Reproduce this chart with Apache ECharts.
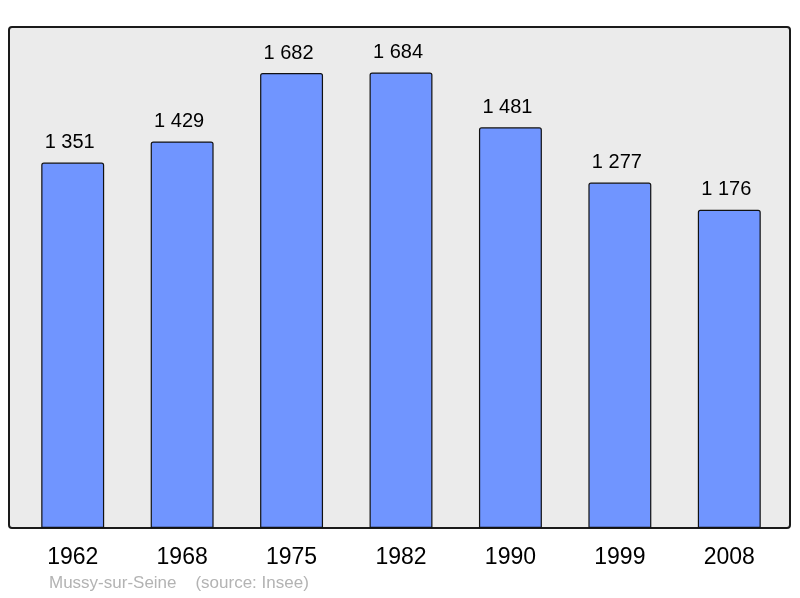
<!DOCTYPE html>
<html lang="fr">
<head>
    <meta charset="UTF-8">
    <title>Mussy-sur-Seine population</title>
    <script src="https://cdn.jsdelivr.net/npm/echarts@6/dist/echarts.min.js"></script>
</head>
<body style="margin:0;background:#fff;">
<div id="chart" style="width:800px;height:598px;"></div>
<script type="text/javascript">
    // données (source: Insee)
    const years = ['1962', '1968', '1975', '1982', '1990', '1999', '2008'];
    const population = [1351, 1429, 1682, 1684, 1481, 1277, 1176];
    const caption = 'Mussy-sur-Seine    (source: Insee)';

    let chart = echarts.init(document.getElementById('chart'));

    function fmt(v) {
        // séparateur des milliers : espace
        return String(v).replace(/\B(?=(\d{3})+(?!\d))/g, ' ');
    }

    let option = {
        animation: false,
        textStyle: {fontFamily: 'Liberation Sans, Arial, sans-serif'},
        graphic: [
            {
                type: 'rect',
                z: -10,
                shape: {x: 9, y: 27, width: 781, height: 501, r: 3},
                style: {fill: '#ebebeb', stroke: '#1a1a1a', lineWidth: 2}
            },
            {
                type: 'text',
                left: 49,
                top: 575,
                style: {text: caption, fill: '#b3b3b3', font: '17px "Liberation Sans", Arial, sans-serif'}
            }
        ],
        grid: {left: 18, right: 16, top: 27, bottom: 70},
        xAxis: {
            type: 'category',
            data: years,
            axisLine: {show: false},
            axisTick: {show: false},
            axisLabel: {color: '#000', fontSize: 23, margin: 18}
        },
        yAxis: {
            type: 'value',
            min: 0,
            max: 1852,
            show: false
        },
        series: [{
            type: 'bar',
            data: population,
            barWidth: '57.5%',
            itemStyle: {
                color: '#7095ff',
                borderColor: '#111',
                borderWidth: 1.2,
                borderRadius: [2, 2, 0, 0]
            },
            label: {
                show: true,
                position: 'top',
                distance: 10,
                offset: [-3, 0],
                color: '#000',
                fontSize: 20,
                formatter: p => fmt(p.value)
            }
        }]
    };

    chart.setOption(option);
</script>
</body>
</html>
